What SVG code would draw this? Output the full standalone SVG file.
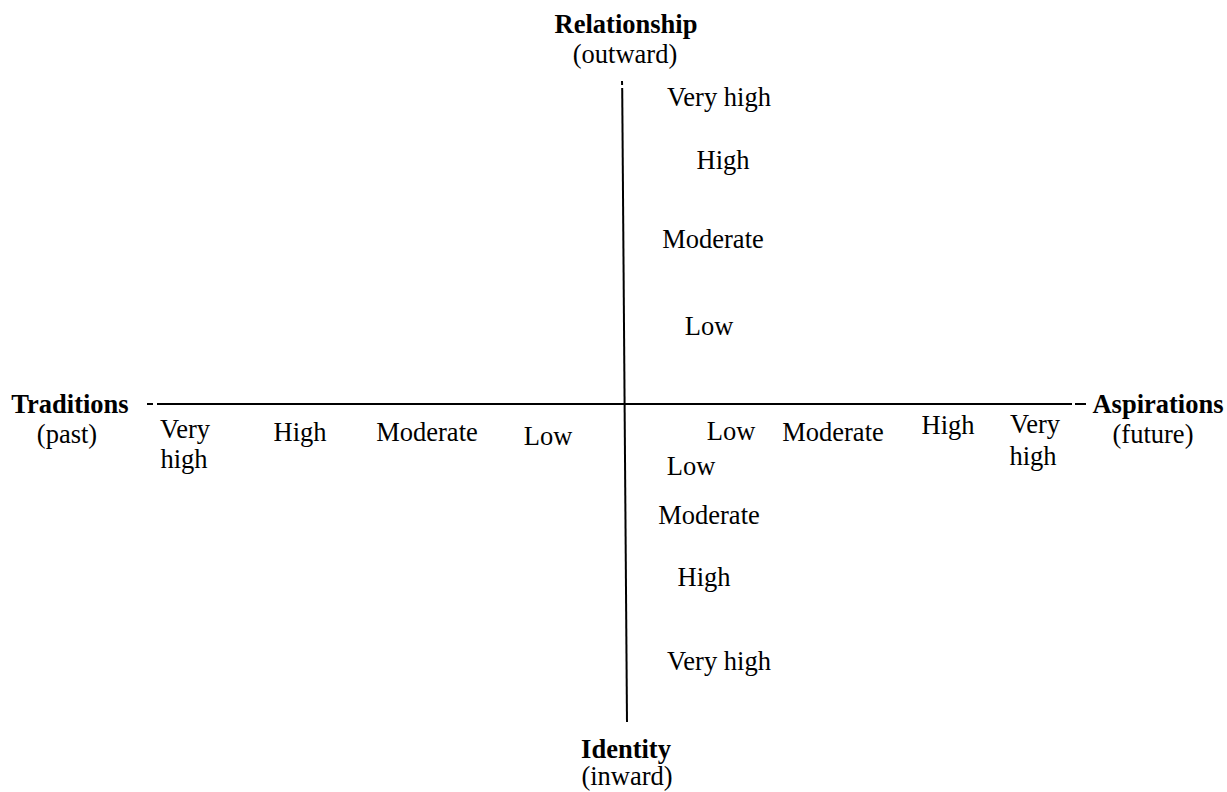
<svg xmlns="http://www.w3.org/2000/svg" width="1227" height="792" viewBox="0 0 1227 792">
<style>
text{font-family:"Liberation Serif","Times New Roman",serif;font-size:26.5px;fill:#000;text-anchor:middle}
.b{font-weight:bold}
.ax{stroke:#000;stroke-width:2;fill:none}
</style>
<rect width="1227" height="792" fill="#fff"/>
<g id="connectors">
<line class="ax" x1="147" y1="404" x2="153" y2="404"/>
<line class="ax" x1="157" y1="404" x2="1072" y2="404"/>
<line class="ax" x1="1075" y1="404" x2="1086" y2="404"/>
<line class="ax" x1="622" y1="81" x2="622.1" y2="85"/>
<line class="ax" x1="622.2" y1="88" x2="627" y2="722"/>
</g>
<g id="relationship"><text class="b" x="626" y="33">Relationship</text><text x="625" y="63">(outward)</text></g>
<g id="identity"><text class="b" x="626" y="758">Identity</text><text x="627" y="785">(inward)</text></g>
<g id="traditions"><text class="b" x="70" y="413">Traditions</text><text x="67" y="443">(past)</text></g>
<g id="aspirations"><text class="b" x="1158" y="413">Aspirations</text><text x="1153" y="443">(future)</text></g>
<g id="up-very-high"><text x="719" y="106">Very high</text></g>
<g id="up-high"><text x="723" y="169">High</text></g>
<g id="up-moderate"><text x="713" y="248">Moderate</text></g>
<g id="up-low"><text x="709" y="335">Low</text></g>
<g id="left-very-high"><text x="185" y="438">Very</text><text x="184" y="468">high</text></g>
<g id="left-high"><text x="300" y="441">High</text></g>
<g id="left-moderate"><text x="427" y="441">Moderate</text></g>
<g id="left-low"><text x="548" y="445">Low</text></g>
<g id="right-low"><text x="731" y="440">Low</text></g>
<g id="right-moderate"><text x="833" y="441">Moderate</text></g>
<g id="right-high"><text x="948" y="434">High</text></g>
<g id="right-very-high"><text x="1035" y="433">Very</text><text x="1033" y="465">high</text></g>
<g id="down-low"><text x="691" y="475">Low</text></g>
<g id="down-moderate"><text x="709" y="524">Moderate</text></g>
<g id="down-high"><text x="704" y="586">High</text></g>
<g id="down-very-high"><text x="719" y="670">Very high</text></g>
</svg>
